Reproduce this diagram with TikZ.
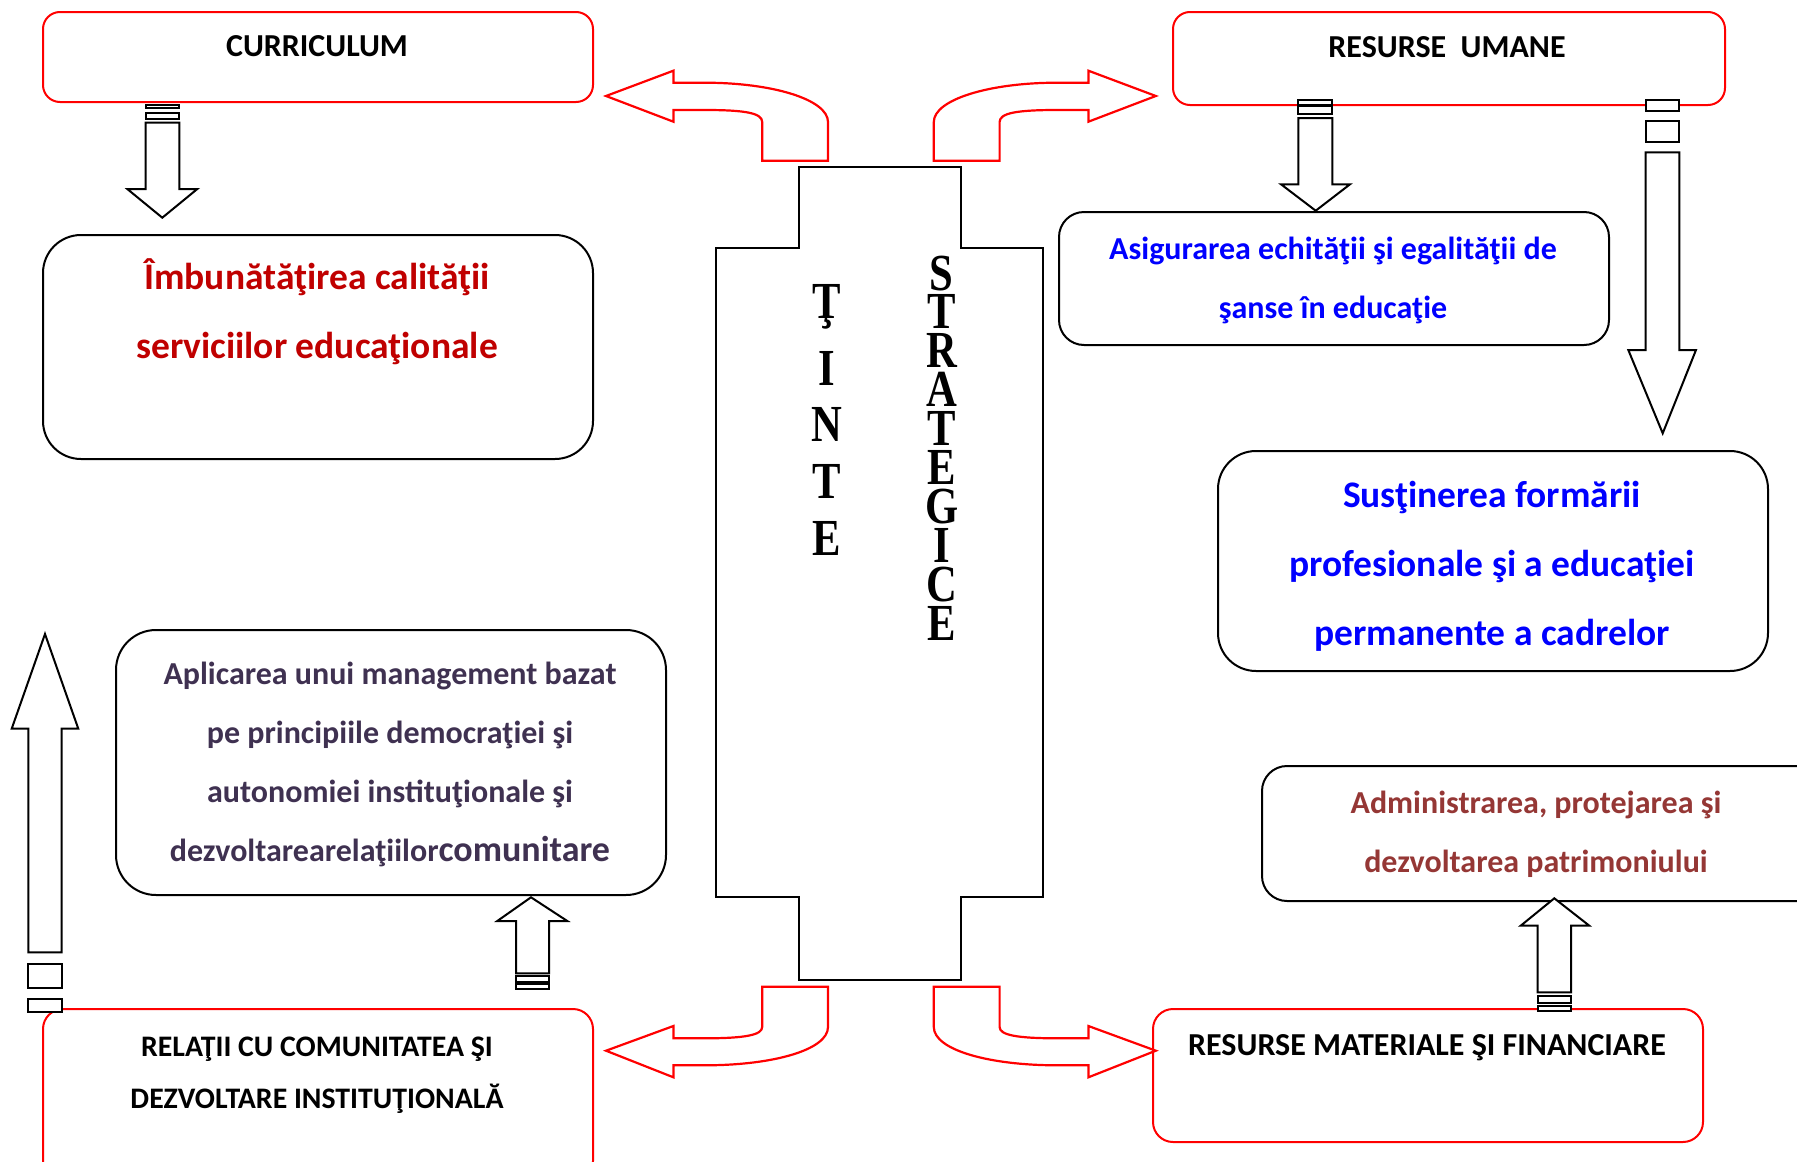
\documentclass[tikz,border=0pt]{standalone}
\usepackage{fontspec}
\setmainfont{Carlito}
\newfontfamily\timesf[FakeStretch=0.82]{Liberation Serif}
\definecolor{cdred}{HTML}{C00000}
\definecolor{cblue}{HTML}{0000FF}
\definecolor{cpurple}{HTML}{3F3151}
\definecolor{cbrown}{HTML}{953735}
\begin{document}
\begin{tikzpicture}[x=1pt,y=-1pt,
  redbox/.style={draw=red, line width=2pt, rounded corners=17pt, anchor=north west, inner sep=0pt},
  blkbox/.style={draw=black, line width=2pt, anchor=north west, inner sep=0pt},
  barrow/.style={draw=black, line width=2pt, fill=white, line join=miter},
  carrow/.style={draw=red, line width=2.2pt, fill=white, line join=miter},
  capl/.style={font=\bfseries\fontsize{32}{52}\selectfont, align=center, inner sep=0pt},
  lbl/.style={font=\bfseries\fontsize{29.8}{52}\selectfont, align=center, inner sep=0pt},
  midlbl/.style={font=\bfseries\fontsize{32}{59}\selectfont, align=center, inner sep=0pt},
  biglbl/.style={font=\bfseries\fontsize{37.5}{69}\selectfont, align=center, inner sep=0pt},
  ctr/.style={font=\timesf\bfseries\fontsize{52}{52}\selectfont, anchor=base, inner sep=0pt, text height=34pt, text depth=0pt},
]
\useasboundingbox (0,0) rectangle (1797,1162);
\fill[white] (0,0) rectangle (1797,1162);

% ---- boxes ----
\node[redbox, minimum width=550pt, minimum height=90pt] (curr) at (42,11) {};
\node[redbox, minimum width=552pt, minimum height=93pt] (ruman) at (1172,11) {};
\node[redbox, rounded corners=20pt, minimum width=550pt, minimum height=172pt] (rel) at (42,1008) {};
\node[redbox, rounded corners=20pt, minimum width=550pt, minimum height=133pt] (rmat) at (1152,1008) {};

\node[blkbox, rounded corners=38pt, minimum width=550pt, minimum height=224pt] (imb) at (42,234) {};
\node[blkbox, rounded corners=25pt, minimum width=550pt, minimum height=133pt] (asig) at (1058,211) {};
\node[blkbox, rounded corners=38pt, minimum width=550pt, minimum height=220pt] (sust) at (1217,450) {};
\node[blkbox, rounded corners=40pt, minimum width=550pt, minimum height=265pt] (apl) at (115,629) {};
\node[blkbox, rounded corners=25pt, minimum width=560pt, minimum height=135pt] (adm) at (1261,765) {};

% ---- central shape ----
\draw[line width=2pt] (798.6,167) -- (961.2,167) -- (961.2,248) -- (1043,248) -- (1043,897)
  -- (961.2,897) -- (961.2,979.5) -- (798.6,979.5) -- (798.6,897) -- (716,897) -- (716,248)
  -- (798.6,248) -- cycle;
\foreach \l/\yy [count=\i] in {Ţ/318.3,I/385,N/441.7,T/498.3,E/555}
  \node[ctr] (tinte\i) at (826.7,\yy) {\l};
\foreach \l [count=\i] in {S,T,R,A,T,E,G,I,C,E}
  \node[ctr] (strat\i) at (941.7,{290+38.9*(\i-1)}) {\l};

% ---- texts ----
\node[capl] (currt) at (317,46) {CURRICULUM};
\node[capl] (rumant) at (1447,47) {RESURSE\ \ UMANE};
\node[biglbl, text=cdred] (imbt) at (317,312) {Îmbunătăţirea calităţii\\serviciilor educaţionale};
\node[midlbl, text=cblue] (asigt) at (1333,280) {Asigurarea echităţii şi egalităţii de\\şanse în educaţie};
\node[biglbl, text=cblue] (sustt) at (1492,566) {Susţinerea formării\\profesionale şi a educaţiei\\permanente a cadrelor};
\node[midlbl, text=cpurple] (aplt) at (390,764) {Aplicarea unui management bazat\\pe principiile democraţiei şi\\autonomiei instituţionale şi\\dezvoltarearelaţiilor{\fontsize{36}{59}\selectfont comunitare}};
\node[midlbl, text=cbrown] (admt) at (1536,834) {Administrarea, protejarea şi\\dezvoltarea patrimoniului};
\node[lbl] (relt) at (317,1075) {RELAŢII CU COMUNITATEA ŞI\\DEZVOLTARE INSTITUŢIONALĂ};
\node[capl] (rmatt) at (1427,1048) {RESURSE MATERIALE ŞI FINANCIARE};

% ---- curved red arrows ----
\draw[carrow] (606,96) -- (673.4,70.7) -- (673.4,82.7) -- (704.8,82.7)
  .. controls (772.7,82.7) and (828,99.6) .. (828,122) -- (828,160.7) -- (762.2,160.7) -- (762.2,122)
  .. controls (762.2,113) and (745,110) .. (704.8,110) -- (673.4,110) -- (673.4,121.7) -- cycle;
\draw[carrow] (1155.8,96) -- (1088.4,70.7) -- (1088.4,82.7) -- (1057,82.7)
  .. controls (989.1,82.7) and (933.8,99.6) .. (933.8,122) -- (933.8,160.7) -- (999.6,160.7) -- (999.6,122)
  .. controls (999.6,113) and (1016.8,110) .. (1057,110) -- (1088.4,110) -- (1088.4,121.7) -- cycle;
\draw[carrow] (606,1050.7) -- (673.4,1026) -- (673.4,1038.3) -- (704.8,1038.3)
  .. controls (745,1038.3) and (762.2,1035) .. (762.2,1027) -- (762.2,986.7) -- (828,986.7) -- (828,1027)
  .. controls (828,1050) and (772.7,1065.3) .. (704.8,1065.3) -- (673.4,1065.3) -- (673.4,1077.3) -- cycle;
\draw[carrow] (1155.8,1050.7) -- (1088.4,1026) -- (1088.4,1038.3) -- (1057,1038.3)
  .. controls (1016.8,1038.3) and (999.6,1035) .. (999.6,1027) -- (999.6,986.7) -- (933.8,986.7) -- (933.8,1027)
  .. controls (933.8,1050) and (989.1,1065.3) .. (1057,1065.3) -- (1088.4,1065.3) -- (1088.4,1077.3) -- cycle;

% ---- striped block arrows ----
% curriculum down
\draw[barrow] (145.7,105) rectangle (179.3,108.3);
\draw[barrow] (145.7,112.7) rectangle (179.3,119.3);
\draw[barrow] (145.7,122.7) -- (179.3,122.7) -- (179.3,189) -- (197.3,189) -- (162.3,217.7)
  -- (127.3,189) -- (145.7,189) -- cycle;
% resurse umane left down
\draw[barrow] (1298.3,100) rectangle (1332.3,104.5);
\draw[barrow] (1298.3,106) rectangle (1332.3,114);
\draw[barrow] (1298.3,118) -- (1332.3,118) -- (1332.3,184.3) -- (1350,184.3) -- (1315.7,210.7)
  -- (1281,184.3) -- (1298.3,184.3) -- cycle;
% resurse umane right long down
\draw[barrow] (1645.7,100) rectangle (1679.3,111);
\draw[barrow] (1645.7,121) rectangle (1679.3,142.3);
\draw[barrow] (1645.7,152.3) -- (1679.3,152.3) -- (1679.3,350) -- (1696,350) -- (1662.7,433.3)
  -- (1628.3,350) -- (1645.7,350) -- cycle;
% left long up
\draw[barrow] (28.3,999.3) rectangle (61.7,1011.7);
\draw[barrow] (28.3,964) rectangle (61.7,988.3);
\draw[barrow] (28.3,952.3) -- (61.7,952.3) -- (61.7,728.7) -- (78.3,728.7) -- (45,634)
  -- (11.7,728.7) -- (28.3,728.7) -- cycle;
% aplicarea up
\draw[barrow] (516,984.3) rectangle (549,989);
\draw[barrow] (516,976) rectangle (549,982);
\draw[barrow] (516,973.3) -- (549,973.3) -- (549,921) -- (567.3,921) -- (531,897.3)
  -- (497.3,921) -- (516,921) -- cycle;
% administrarea up
\draw[barrow] (1537.7,1006) rectangle (1571,1010.7);
\draw[barrow] (1537.7,996) rectangle (1571,1003.3);
\draw[barrow] (1537.7,992.3) -- (1571,992.3) -- (1571,925.7) -- (1589.3,925.7) -- (1554.3,898.3)
  -- (1520.7,925.7) -- (1537.7,925.7) -- cycle;
\end{tikzpicture}
\end{document}
